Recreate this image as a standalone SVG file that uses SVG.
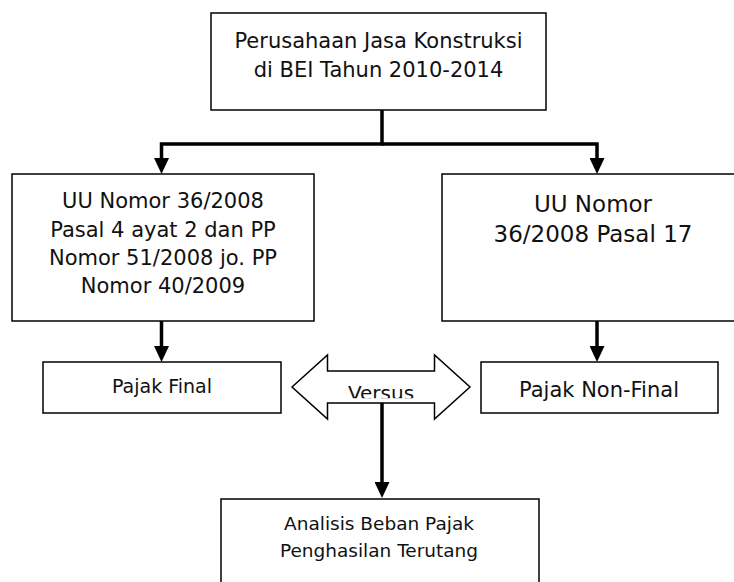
<svg xmlns="http://www.w3.org/2000/svg" width="734" height="582" viewBox="0 0 734 582">
<style>
.box{fill:#fff;stroke:#000;stroke-width:1.5}
.t{font-family:"DejaVu Sans","Liberation Sans",sans-serif;fill:#111;text-anchor:middle}
.conn{fill:none;stroke:#000;stroke-width:3.5;stroke-linejoin:miter}
</style>
<defs>
<marker id="ah" viewBox="0 0 16 15" refX="0" refY="7.5" markerWidth="16" markerHeight="15" orient="auto" markerUnits="userSpaceOnUse">
<path d="M0,0 L16,7.5 L0,15 z" fill="#000"/>
</marker>
<clipPath id="vclip"><rect x="330" y="371" width="104" height="27.3"/></clipPath>
</defs>
<rect width="734" height="582" fill="#fff"/>
<g id="connectors">
<path class="conn" d="M382,110 V144 H161.5 V158" marker-end="url(#ah)"/>
<path class="conn" d="M382,144 H597 V158" marker-end="url(#ah)"/>
<path class="conn" d="M161.5,321 V346" marker-end="url(#ah)"/>
<path class="conn" d="M597,321 V346" marker-end="url(#ah)"/>
<path class="conn" d="M382,403 V482" marker-end="url(#ah)"/>
</g>
<g id="top">
<rect class="box" x="211" y="13" width="335" height="97"/>
<text class="t" font-size="21" x="378.5" y="48">Perusahaan Jasa Konstruksi</text>
<text class="t" font-size="21" x="378.5" y="77">di BEI Tahun 2010-2014</text>
</g>
<g id="left">
<rect class="box" x="12" y="174" width="302" height="147"/>
<text class="t" font-size="21" x="163" y="208">UU Nomor 36/2008</text>
<text class="t" font-size="21" x="163" y="236.5">Pasal 4 ayat 2 dan PP</text>
<text class="t" font-size="21" x="163" y="265">Nomor 51/2008 jo. PP</text>
<text class="t" font-size="21" x="163" y="293">Nomor 40/2009</text>
</g>
<g id="right">
<rect class="box" x="442" y="174" width="302" height="147"/>
<text class="t" font-size="23" x="593" y="212">UU Nomor</text>
<text class="t" font-size="23" x="593" y="242">36/2008 Pasal 17</text>
</g>
<g id="final">
<rect class="box" x="43" y="362" width="238" height="51"/>
<text class="t" font-size="19" x="162" y="393">Pajak Final</text>
</g>
<g id="nonfinal">
<rect class="box" x="481" y="362" width="237" height="51"/>
<text class="t" font-size="21" x="599" y="397">Pajak Non-Final</text>
</g>
<g id="versus">
<polygon class="box" points="292,387 327.5,355 327.5,371 434.5,371 434.5,355 470,387 434.5,419 434.5,403 327.5,403 327.5,419"/>
<text class="t" font-size="20" x="381" y="399.5" clip-path="url(#vclip)">Versus</text>
</g>
<g id="analisis">
<rect class="box" x="221" y="499" width="318" height="100"/>
<text class="t" font-size="18.5" x="379" y="530">Analisis Beban Pajak</text>
<text class="t" font-size="18.5" x="379" y="556.5">Penghasilan Terutang</text>
</g>
</svg>
